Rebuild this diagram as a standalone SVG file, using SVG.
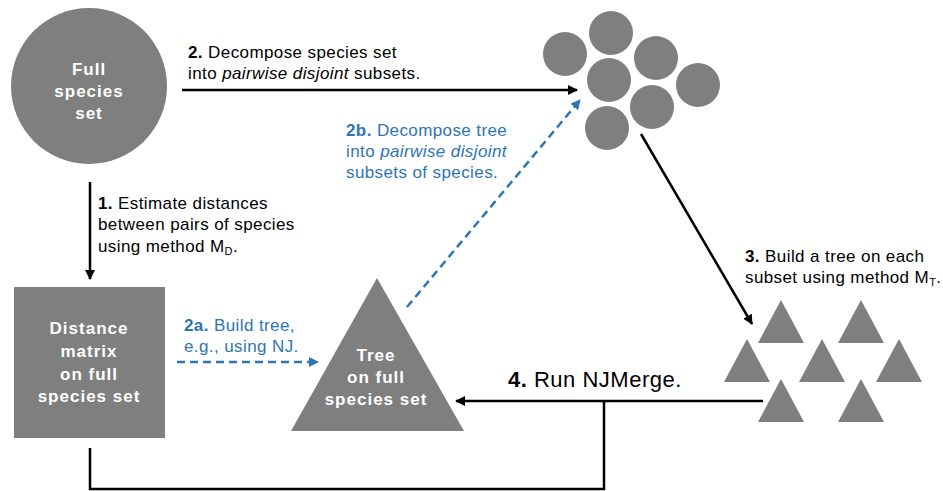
<svg xmlns="http://www.w3.org/2000/svg" width="943" height="491" viewBox="0 0 943 491">
<style>
.shape{fill:#7f7f7f}
.lbl{font-family:"Liberation Sans",Arial,sans-serif;font-size:17px;letter-spacing:0.4px;fill:#000}
.blue{fill:#2e75b6}
.big{font-size:22px;letter-spacing:0.5px}
.w{font-family:"Liberation Sans",Arial,sans-serif;font-size:17px;letter-spacing:1px;font-weight:bold;fill:#fff;text-anchor:middle}
.ln{stroke:#000;stroke-width:2.5;fill:none}
.dash{stroke:#2e75b6;stroke-width:2.5;fill:none;stroke-dasharray:8,5}
</style>
<defs>
<marker id="ah" viewBox="0 0 10 10" refX="9" refY="5" markerWidth="4" markerHeight="4" orient="auto" markerUnits="strokeWidth"><path d="M0,0 L10,5 L0,10 z" fill="#000"/></marker>
<marker id="ahb" viewBox="0 0 10 10" refX="9" refY="5" markerWidth="4" markerHeight="4" orient="auto" markerUnits="strokeWidth"><path d="M0,0 L10,5 L0,10 z" fill="#2e75b6"/></marker>
</defs>
<rect width="943" height="491" fill="#fff"/>
<g id="full-species">
<circle class="shape" cx="89" cy="86" r="78"/>
<text class="w"><tspan x="89" y="75">Full</tspan><tspan x="89" y="97">species</tspan><tspan x="89" y="119">set</tspan></text>
</g>
<g id="subsets">
<circle class="shape" cx="565" cy="54" r="22"/>
<circle class="shape" cx="611" cy="33" r="22"/>
<circle class="shape" cx="656" cy="58" r="22"/>
<circle class="shape" cx="609" cy="80" r="22"/>
<circle class="shape" cx="698" cy="85" r="22"/>
<circle class="shape" cx="652" cy="107" r="22"/>
<circle class="shape" cx="607" cy="128" r="22"/>
</g>
<g id="distance-matrix">
<rect class="shape" x="14" y="287" width="151" height="151"/>
<text class="w"><tspan x="89" y="334">Distance</tspan><tspan x="89" y="357">matrix</tspan><tspan x="89" y="380">on full</tspan><tspan x="89" y="402">species set</tspan></text>
</g>
<g id="tree">
<polygon class="shape" points="377,278 464,431 291,431"/>
<text class="w"><tspan x="376" y="361">Tree</tspan><tspan x="376" y="383">on full</tspan><tspan x="376" y="405">species set</tspan></text>
</g>
<g id="subset-trees">
<polygon class="shape" points="781,300 804,343 758,343"/>
<polygon class="shape" points="861,300 884,343 838,343"/>
<polygon class="shape" points="747,339 770,382 724,382"/>
<polygon class="shape" points="822,339 845,382 799,382"/>
<polygon class="shape" points="899,339 922,382 876,382"/>
<polygon class="shape" points="781,379 804,422 758,422"/>
<polygon class="shape" points="861,379 884,422 838,422"/>
</g>
<g id="connectors">
<line class="ln" x1="182" y1="90" x2="577" y2="90" marker-end="url(#ah)"/>
<line class="ln" x1="90" y1="182" x2="90" y2="279" marker-end="url(#ah)"/>
<line class="ln" x1="641" y1="134" x2="752" y2="324" marker-end="url(#ah)"/>
<line class="ln" x1="763" y1="401" x2="456" y2="401" marker-end="url(#ah)"/>
<polyline class="ln" points="90,448 90,489 604,489 604,401"/>
<line class="dash" x1="177" y1="362" x2="318" y2="362" marker-end="url(#ahb)"/>
<line class="dash" x1="407" y1="307" x2="580" y2="100" marker-end="url(#ahb)"/>
</g>
<g id="labels">
<text class="lbl"><tspan x="188" y="58"><tspan font-weight="bold">2.</tspan> Decompose species set</tspan><tspan x="188" y="79">into <tspan font-style="italic">pairwise disjoint</tspan> subsets.</tspan></text>
<text class="lbl"><tspan x="98" y="209"><tspan font-weight="bold">1.</tspan> Estimate distances</tspan><tspan x="98" y="230">between pairs of species</tspan><tspan x="98" y="252">using method M<tspan style="font-size:11px" dy="3">D</tspan><tspan dy="-3">.</tspan></tspan></text>
<text class="lbl blue"><tspan x="184" y="331"><tspan font-weight="bold">2a.</tspan> Build tree,</tspan><tspan x="184" y="352">e.g., using NJ.</tspan></text>
<text class="lbl blue"><tspan x="346" y="136"><tspan font-weight="bold">2b.</tspan> Decompose tree</tspan><tspan x="346" y="157">into <tspan font-style="italic">pairwise disjoint</tspan></tspan><tspan x="346" y="178">subsets of species.</tspan></text>
<text class="lbl"><tspan x="745" y="262"><tspan font-weight="bold">3.</tspan> Build a tree on each</tspan><tspan x="745" y="283">subset using method M<tspan style="font-size:11px" dy="3">T</tspan><tspan dy="-3">.</tspan></tspan></text>
<text class="lbl big" x="508" y="387"><tspan font-weight="bold">4.</tspan> Run NJMerge.</text>
</g>
</svg>
